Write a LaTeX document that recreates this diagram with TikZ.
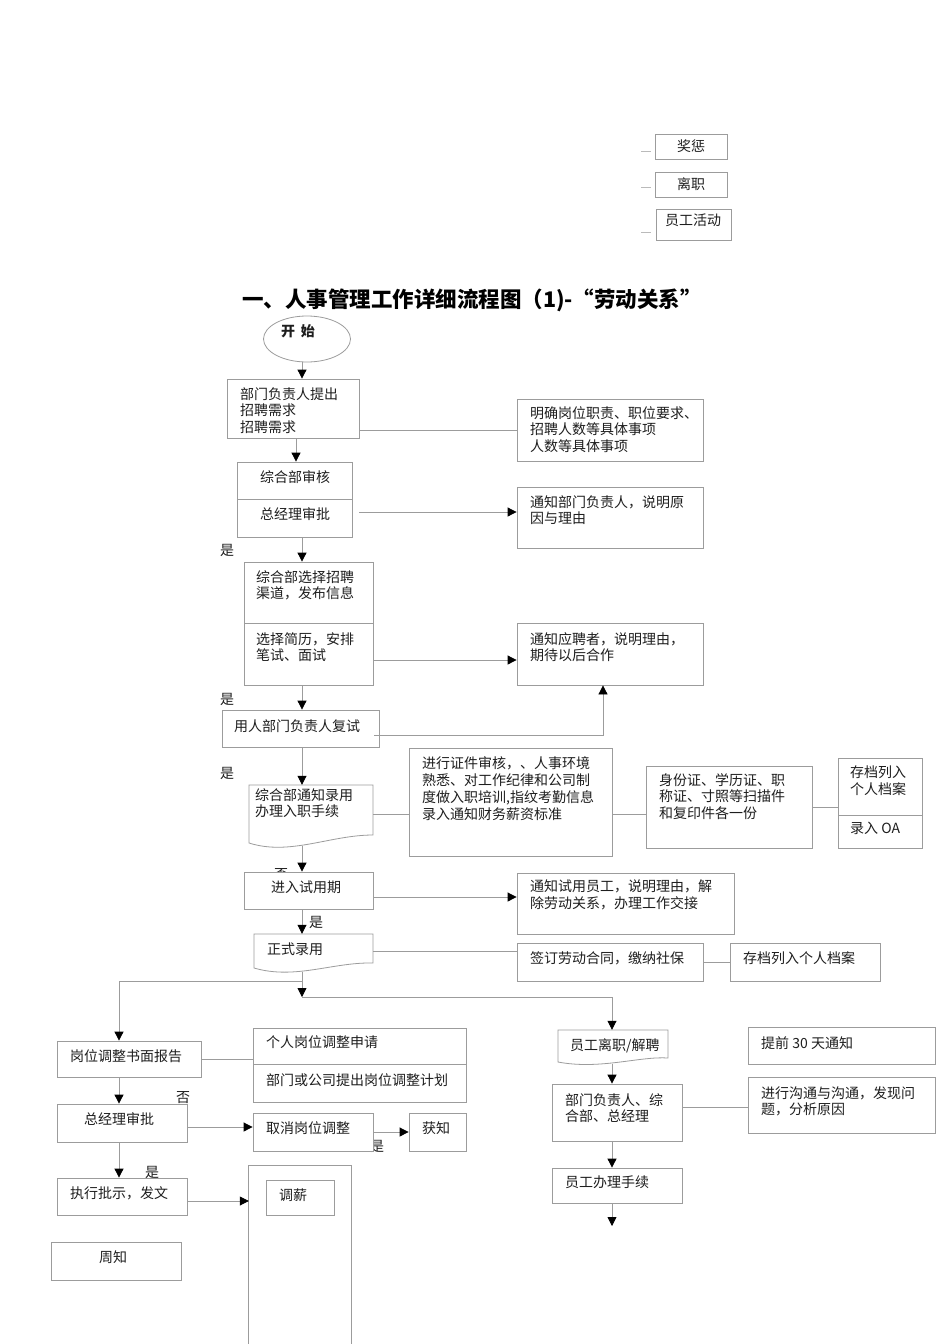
\documentclass[tikz,border=0pt]{standalone}
\usepackage{fontspec}
\setmainfont{Noto Sans CJK SC}
\usetikzlibrary{arrows.meta,shapes.geometric,fit,calc}
\definecolor{lg}{HTML}{9C9C9C}
\definecolor{tx}{HTML}{1E1E1E}
\begin{document}
\begin{tikzpicture}[x=1pt,y=-1pt,
  box/.style={draw=lg,fill=white,line width=0.8pt,inner sep=0pt},
  ghost/.style={inner sep=0pt},
  txt/.style={inner sep=0pt,anchor=north west,align=left,text=tx,font=\fontsize{14}{16.5}\selectfont},
  lbl/.style={inner sep=0pt,text=tx,font=\fontsize{14}{16.5}\selectfont},
  ln/.style={draw=lg,line width=0.8pt},
  arr/.style={ln,-{Triangle[width=9pt,length=9pt,color=black]}},
]
\useasboundingbox (0,0) rectangle (950,1344);
\fill[white] (0,0) rectangle (950,1344);

% columns
\coordinate (cA) at (302,0);
\coordinate (cB) at (296,0);
\coordinate (cL) at (119,0);
\coordinate (cR) at (612,0);
\coordinate (cU) at (603,0);

% partially hidden labels (drawn first)
\node[lbl] (s1) at (227,550) {是};
\node[lbl] (s2) at (227,699) {是};
\node[lbl] (s3) at (227,773) {是};
\node[lbl] (n1) at (281,875) {否};
\node[lbl] (s4) at (316,922) {是};
\node[lbl] (n2) at (183,1098) {否};
\node[lbl] (s5) at (377,1146) {是};
\node[lbl] (s6) at (152,1172) {是};

% top right
\node[box,fit={(655,134)(727,159)}] (jc) {};
\node[lbl] (jct) at (691,146) {奖惩};
\node[box,fit={(655,172)(727,197)}] (lz) {};
\node[lbl] (lzt) at (691,184) {离职};
\node[box,fit={(656,209)(731,240)}] (hd) {};
\node[lbl] (hdt) at (693,220) {员工活动};
\coordinate (d1a) at (641,151); \coordinate (d1b) at (651,151);
\coordinate (d2a) at (641,187); \coordinate (d2b) at (651,187);
\coordinate (d3a) at (641,232); \coordinate (d3b) at (651,232);
\draw[ln,draw=lg!70] (d1a) -- (d1b);
\draw[ln,draw=lg!70] (d2a) -- (d2b);
\draw[ln,draw=lg!70] (d3a) -- (d3b);

% title
\node[inner sep=0pt,font=\fontsize{21.5}{26}\selectfont\bfseries,text=black] (title) at (472,300) {一、人事管理工作详细流程图（1)-“劳动关系”};

% start
\node[draw=lg,line width=0.8pt,ellipse,minimum width=87pt,minimum height=46pt,inner sep=0pt] (start) at (307,339) {};
\node[lbl,font=\fontsize{14}{16}\selectfont\bfseries] (startt) at (298,331) {开\hspace{6pt}始};

% main column
\node[box,fit={(227,379)(359,438)}] (b1) {};
\node[txt] (b1t) at (240,387) {部门负责人提出\\招聘需求\\招聘需求};
\node[box,fit={(517,399)(703,461)}] (r1) {};
\node[txt] (r1t) at (530,406) {明确岗位职责、职位要求、\\招聘人数等具体事项\\人数等具体事项};

\node[box,fit={(237,462)(352,499)}] (b2a) {};
\node[box,fit={(237,499)(352,537)}] (b2b) {};
\node[lbl] (b2at) at (295,477) {综合部审核};
\node[lbl] (b2bt) at (295,514) {总经理审批};
\node[box,fit={(517,487)(703,548)}] (r2) {};
\node[txt] (r2t) at (530,495) {通知部门负责人，说明原\\因与理由};

\node[box,fit={(244,562)(373,623)}] (b3a) {};
\node[box,fit={(244,623)(373,685)}] (b3b) {};
\node[txt] (b3at) at (256,570) {综合部选择招聘\\渠道，发布信息};
\node[txt] (b3bt) at (256,632) {选择简历，安排\\笔试、面试};
\node[box,fit={(517,623)(703,685)}] (r3) {};
\node[txt] (r3t) at (530,632) {通知应聘者，说明理由，\\期待以后合作};

\node[box,fit={(222,710)(379,747)}] (b4) {};
\node[txt] (b4t) at (234,719) {用人部门负责人复试};

\node[ghost,fit={(249,785)(373,843)}] (doc1) {};
\draw[ln,fill=white] (249,785) -- (373,785) -- (373,835) .. controls (330,835) and (290,856) .. (249,843) -- cycle;
\node[txt] (doc1t) at (255,788) {综合部通知录用\\办理入职手续};

\node[box,fit={(409,748)(612,856)}] (r4) {};
\node[txt,font=\fontsize{14}{17}\selectfont] (r4t) at (422,756) {进行证件审核，、人事环境\\熟悉、对工作纪律和公司制\\度做入职培训,指纹考勤信息\\录入通知财务薪资标准};
\node[box,fit={(646,766)(812,848)}] (r5) {};
\node[txt] (r5t) at (659,773) {身份证、学历证、职\\称证、寸照等扫描件\\和复印件各一份};
\node[box,fit={(838,758)(922,815)}] (r6a) {};
\node[box,fit={(838,815)(922,848)}] (r6b) {};
\node[txt] (r6at) at (850,766) {存档列入\\个人档案};
\node[txt] (r6bt) at (850,822) {录入 OA};

\node[box,fit={(244,872)(373,909)}] (b5) {};
\node[lbl] (b5t) at (306,887) {进入试用期};
\node[box,fit={(517,873)(734,934)}] (r7) {};
\node[txt] (r7t) at (530,880) {通知试用员工，说明理由，解\\除劳动关系，办理工作交接};

\node[ghost,fit={(254,934)(373,968)}] (doc2) {};
\draw[ln,fill=white] (254,934) -- (373,934) -- (373,963) .. controls (333,962) and (295,980) .. (254,968) -- cycle;
\node[txt] (doc2t) at (267,943) {正式录用};
\node[box,fit={(517,943)(703,981)}] (r8) {};
\node[txt] (r8t) at (530,951) {签订劳动合同，缴纳社保};
\node[box,fit={(730,943)(880,981)}] (r9) {};
\node[txt] (r9t) at (743,951) {存档列入个人档案};

% left branch
\node[box,fit={(57,1041)(201,1077)}] (l1) {};
\node[txt] (l1t) at (70,1049) {岗位调整书面报告};
\node[box,fit={(253,1028)(466,1064)}] (lr1a) {};
\node[box,fit={(253,1064)(466,1102)}] (lr1b) {};
\node[txt] (lr1at) at (266,1035) {个人岗位调整申请};
\node[txt] (lr1bt) at (266,1073) {部门或公司提出岗位调整计划};
\node[box,fit={(57,1104)(187,1142)}] (l2) {};
\node[txt] (l2t) at (84,1112) {总经理审批};
\node[box,fit={(253,1113)(373,1151)}] (lc) {};
\node[txt] (lct) at (266,1121) {取消岗位调整};
\node[box,fit={(409,1113)(466,1151)}] (lk) {};
\node[txt] (lkt) at (422,1122) {获知};
\node[box,fit={(57,1178)(187,1215)}] (l3) {};
\node[txt] (l3t) at (70,1186) {执行批示，发文};
\node[ghost,fit={(249,1166)(351,1344)}] (tall) {};
\draw[ln] (tall.south west) -- (tall.north west) -- (tall.north east) -- (tall.south east);
\node[box,fit={(266,1180)(334,1215)}] (tx) {};
\node[txt] (txt1) at (279,1189) {调薪};
\node[box,fit={(51,1242)(181,1280)}] (zz) {};
\node[txt] (zzt) at (99,1251) {周知};

% right branch
\node[ghost,fit={(558,1030)(668,1062)}] (q1) {};
\draw[ln,fill=white] (558,1030) -- (668,1030) -- (668,1058) .. controls (640,1056) and (600,1070) .. (558,1062) -- cycle;
\node[txt] (q1t) at (570,1038) {员工离职/解聘};
\node[box,fit={(552,1084)(682,1141)}] (q2) {};
\node[txt] (q2t) at (565,1093) {部门负责人、综\\合部、总经理};
\node[box,fit={(552,1168)(682,1203)}] (q3) {};
\node[txt] (q3t) at (565,1176) {员工办理手续};
\node[box,fit={(748,1027)(935,1064)}] (r11) {};
\node[txt] (r11t) at (761,1036) {提前 30 天通知};
\node[box,fit={(748,1077)(935,1133)}] (r10) {};
\node[txt] (r10t) at (761,1086) {进行沟通与沟通，发现问\\题，分析原因};

% connectors
\draw[arr] (start.south -| cA) -- (b1.north -| cA);
\draw[ln] (r1.west -| b1.east) -- (r1.west);
\draw[arr] (b1.south -| cB) -- (b2a.north -| cB);
\draw[arr] ($(b2b.east)+(7,-6)$) -- ($(b2b.east -| r2.west)+(0,-6)$);
\draw[arr] (b2b.south -| cA) -- (b3a.north -| cA);
\draw[arr] ($(b3b.east)+(0,6)$) -- ($(b3b.east -| r3.west)+(0,6)$);
\draw[arr] (b3b.south -| cA) -- (b4.north -| cA);
\draw[arr] ($(b4.east)+(-5,6.5)$) -| (r3.south -| cU);
\draw[arr] (b4.south -| cA) -- (doc1.north -| cA);
\draw[ln] (doc1.east) -- (doc1.east -| r4.west);
\draw[ln] (doc1.east -| r4.east) -- (doc1.east -| r5.west);
\draw[ln] (r5.east) -- (r5.east -| r6a.west);
\draw[arr] ($(doc1.south -| cA)+(0,3)$) -- (b5.north -| cA);
\draw[arr] ($(b5.east)+(0,6.5)$) -- ($(b5.east -| r7.west)+(0,6.5)$);
\draw[arr] (b5.south -| cA) -- (doc2.north -| cA);
\draw[ln] (doc2.east) -- (doc2.east -| r8.west);
\draw[ln] (r8.east) -- (r9.west);
\coordinate (j1) at (302,981);
\coordinate (j2) at (302,997);
\draw[arr] ($(doc2.south -| cA)+(0,4)$) -- (j2);
\draw[arr] (j1) -| (l1.north -| cL);
\draw[arr] (j2) -| (q1.north -| cR);
\draw[ln] (l1.east) -- (l1.east -| lr1a.west);
\draw[arr] (l1.south -| cL) -- (l2.north -| cL);
\draw[arr] ($(l2.east)+(0,4)$) -- ($(l2.east -| lc.west)+(0,4)$);
\draw[arr] (lc.east) -- (lc.east -| lk.west);
\draw[arr] (l2.south -| cL) -- (l3.north -| cL);
\draw[arr] ($(l3.east)+(0,4.5)$) -- ($(l3.east -| tall.west)+(0,4.5)$);
\draw[arr] ($(q1.south -| cR)+(0,2)$) -- (q2.north -| cR);
\draw[ln] ($(q2.east)+(0,-5.5)$) -- ($(q2.east -| r10.west)+(0,-5.5)$);
\draw[arr] (q2.south -| cR) -- (q3.north -| cR);
\coordinate (qend) at (612,1226);
\draw[arr] (q3.south -| cR) -- (qend);
\end{tikzpicture}
\end{document}
